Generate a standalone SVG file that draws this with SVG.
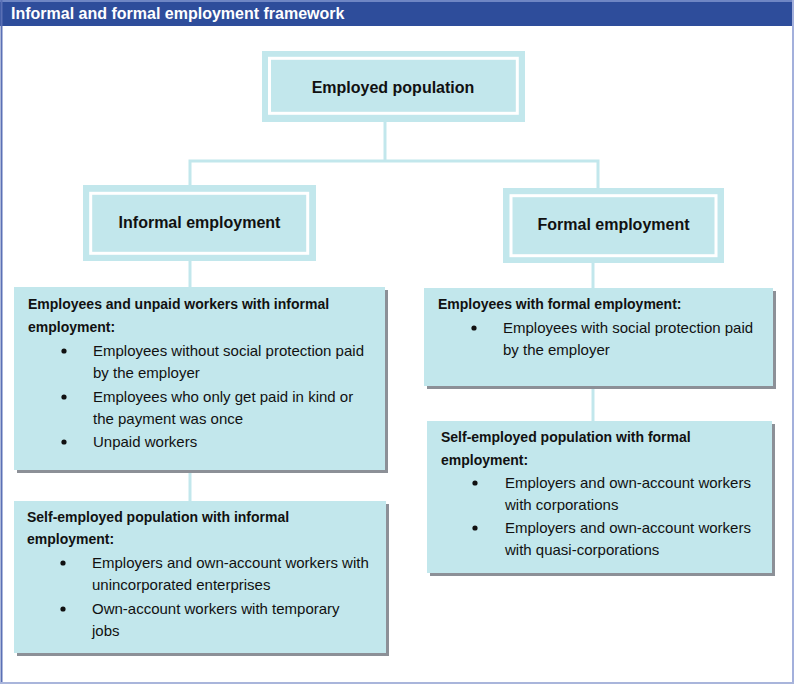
<svg xmlns="http://www.w3.org/2000/svg" width="797" height="685" viewBox="0 0 797 685">
<style>
.frame{fill:none}
.head{font-family:"Liberation Sans",Arial,sans-serif;font-weight:bold;font-size:16px;fill:#ffffff}
.top{fill:#C2E7EC}
.inner{fill:none;stroke:#ffffff;stroke-width:3}
.lbl{font-family:"Liberation Sans",Arial,sans-serif;font-weight:bold;font-size:16px;fill:#111111;text-anchor:middle}
.box{fill:#C2E7EC}
.shadow{fill:#8C9097}
.ttl{font-family:"Liberation Sans",Arial,sans-serif;font-weight:bold;font-size:14px;fill:#111111}
.txt{font-family:"Liberation Sans",Arial,sans-serif;font-size:15px;fill:#111111}
.bul{fill:#111111}
.conn{fill:none;stroke:#C2E7EC;stroke-width:3}
</style>
<rect width="797" height="685" fill="#ffffff"/>
<g id="frame">
<rect x="0" y="0" width="794" height="26" fill="#2E4D9B"/>
<rect x="0" y="0" width="794" height="2" fill="#6F86C4"/>
<line x1="1.5" y1="0" x2="1.5" y2="684" stroke="#5A70B5" stroke-width="2"/>
<line x1="793" y1="0" x2="793" y2="684" stroke="#A3B0DC" stroke-width="2"/>
<line x1="0" y1="683" x2="794" y2="683" stroke="#A9B5DB" stroke-width="2"/>
<text class="head" x="11" y="19">Informal and formal employment framework</text>
</g>
<g id="connectors">
<polyline class="conn" points="385,122 385,161"/>
<polyline class="conn" points="190,186 190,161 598,161 598,189"/>
<line class="conn" x1="190" y1="261" x2="190" y2="288"/>
<line class="conn" x1="190" y1="470" x2="190" y2="502"/>
<line class="conn" x1="593" y1="263" x2="593" y2="289"/>
<line class="conn" x1="593" y1="386" x2="593" y2="422"/>
</g>
<g id="employed-population">
<rect class="top" x="262" y="51" width="263" height="71"/>
<rect class="inner" x="269.5" y="58.3" width="247.8" height="55"/>
<text class="lbl" x="393" y="93">Employed population</text>
</g>
<g id="informal-employment">
<rect class="top" x="83" y="185" width="233" height="76"/>
<rect class="inner" x="90.7" y="193.3" width="217" height="60"/>
<text class="lbl" x="199.5" y="228">Informal employment</text>
</g>
<g id="formal-employment">
<rect class="top" x="503" y="188" width="221" height="75"/>
<rect class="inner" x="511" y="195.7" width="205" height="60"/>
<text class="lbl" x="613.5" y="230">Formal employment</text>
</g>
<g id="informal-employees">
<rect class="shadow" x="17" y="290" width="371" height="183"/>
<rect class="box" x="14" y="287" width="371" height="183"/>
<text class="ttl" x="28" y="309">Employees and unpaid workers with informal</text>
<text class="ttl" x="28" y="332">employment:</text>
<circle class="bul" cx="64" cy="351" r="2.6"/>
<text class="txt" x="93" y="356">Employees without social protection paid</text>
<text class="txt" x="93" y="378">by the employer</text>
<circle class="bul" cx="64" cy="397" r="2.6"/>
<text class="txt" x="93" y="402">Employees who only get paid in kind or</text>
<text class="txt" x="93" y="424">the payment was once</text>
<circle class="bul" cx="64" cy="442" r="2.6"/>
<text class="txt" x="93" y="447">Unpaid workers</text>
</g>
<g id="informal-self-employed">
<rect class="shadow" x="17" y="504" width="372" height="152"/>
<rect class="box" x="14" y="501" width="372" height="152"/>
<text class="ttl" x="27" y="522">Self-employed population with informal</text>
<text class="ttl" x="27" y="544">employment:</text>
<circle class="bul" cx="63" cy="563" r="2.6"/>
<text class="txt" x="92" y="568">Employers and own-account workers with</text>
<text class="txt" x="92" y="590">unincorporated enterprises</text>
<circle class="bul" cx="63" cy="609" r="2.6"/>
<text class="txt" x="92" y="614">Own-account workers with temporary</text>
<text class="txt" x="92" y="636">jobs</text>
</g>
<g id="formal-employees">
<rect class="shadow" x="427" y="291" width="349" height="98"/>
<rect class="box" x="424" y="288" width="349" height="98"/>
<text class="ttl" x="438" y="309">Employees with formal employment:</text>
<circle class="bul" cx="474" cy="328" r="2.6"/>
<text class="txt" x="503" y="333">Employees with social protection paid</text>
<text class="txt" x="503" y="355">by the employer</text>
</g>
<g id="formal-self-employed">
<rect class="shadow" x="430" y="424" width="345" height="152"/>
<rect class="box" x="427" y="421" width="345" height="152"/>
<text class="ttl" x="441" y="442">Self-employed population with formal</text>
<text class="ttl" x="441" y="465">employment:</text>
<circle class="bul" cx="475" cy="483" r="2.6"/>
<text class="txt" x="505" y="488">Employers and own-account workers</text>
<text class="txt" x="505" y="510">with corporations</text>
<circle class="bul" cx="475" cy="528" r="2.6"/>
<text class="txt" x="505" y="533">Employers and own-account workers</text>
<text class="txt" x="505" y="555">with quasi-corporations</text>
</g>
</svg>
